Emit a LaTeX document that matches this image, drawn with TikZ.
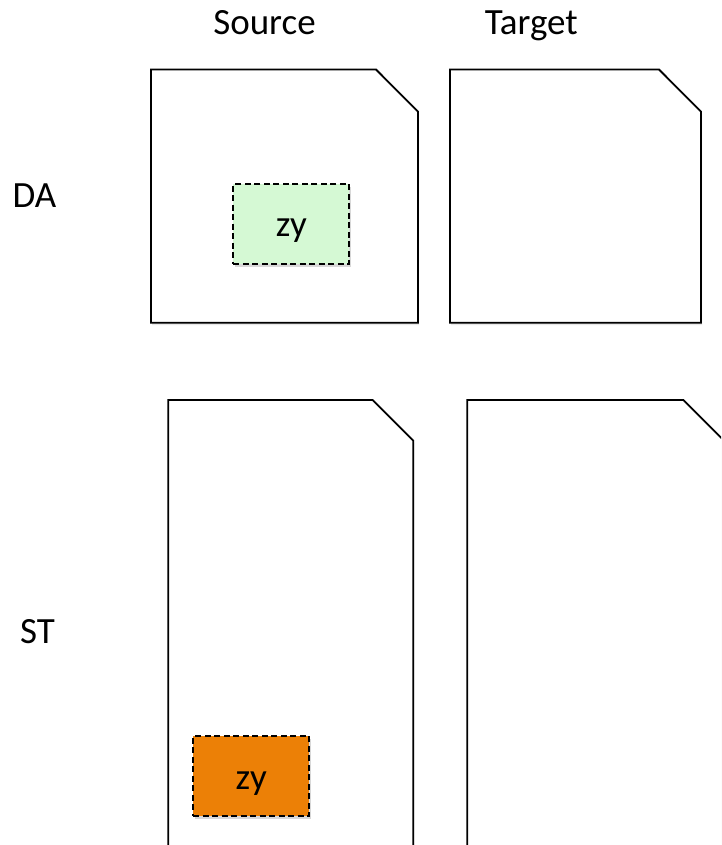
\documentclass[tikz,border=0pt]{standalone}
\usepackage{fontspec}
\setmainfont{Carlito}
\usetikzlibrary{shadows}
\definecolor{lightgreen}{RGB}{213,249,212}
\definecolor{deeporange}{RGB}{236,128,6}
\begin{document}
\begin{tikzpicture}[x=1pt,y=-1pt,
  lbl/.style={anchor=base,font=\fontsize{37}{44}\selectfont,text=black},
  sheet/.style={draw=black,line width=1.8pt,fill=white,line join=miter,
    drop shadow={opacity=0.18,shadow xshift=1pt,shadow yshift=-2.5pt}},
  chunk/.style={draw=black,line width=1.8pt,dash pattern=on 6pt off 3.5pt,
    font=\fontsize{37}{44}\selectfont,text height=28pt,text depth=2.5pt,
    inner sep=0pt,minimum width=116pt,minimum height=80pt,
    drop shadow={opacity=0.3,shadow xshift=1.5pt,shadow yshift=-3pt}}]
  \clip (0,0) rectangle (721,845);
  \fill[white] (0,0) rectangle (721,845);

  % column and row headings
  \node[lbl] (src) at (264.5,34.3) {Source};
  \node[lbl] (tgt) at (531.3,34.3) {Target};
  \node[lbl] (da)  at (34.5,207.3) {DA};
  \node[lbl] (st)  at (37.5,643) {ST};

  % DA row: source and target sheets with a folded corner
  \path[sheet] (151,69.5) -- (376,69.5) -- (418,111.7) -- (418,322.7)
    -- (151,322.7) -- cycle;
  \path[sheet] (450,69.5) -- (659,69.5) -- (701,111.7) -- (701,322.7)
    -- (450,322.7) -- cycle;

  % ST row: taller sheets running off the bottom edge
  \path[sheet] (168.3,400) -- (372.7,400) -- (413.3,440.7) -- (413.3,900)
    -- (168.3,900) -- cycle;
  \path[sheet] (467.3,400) -- (683.3,400) -- (724,440.7) -- (724,900)
    -- (467.3,900) -- cycle;

  % highlighted chunks
  \node[chunk,fill=lightgreen] (zyda) at (291.3,224) {zy};
  \node[chunk,fill=deeporange] (zyst) at (251.2,776.3) {zy};
\end{tikzpicture}
\end{document}
